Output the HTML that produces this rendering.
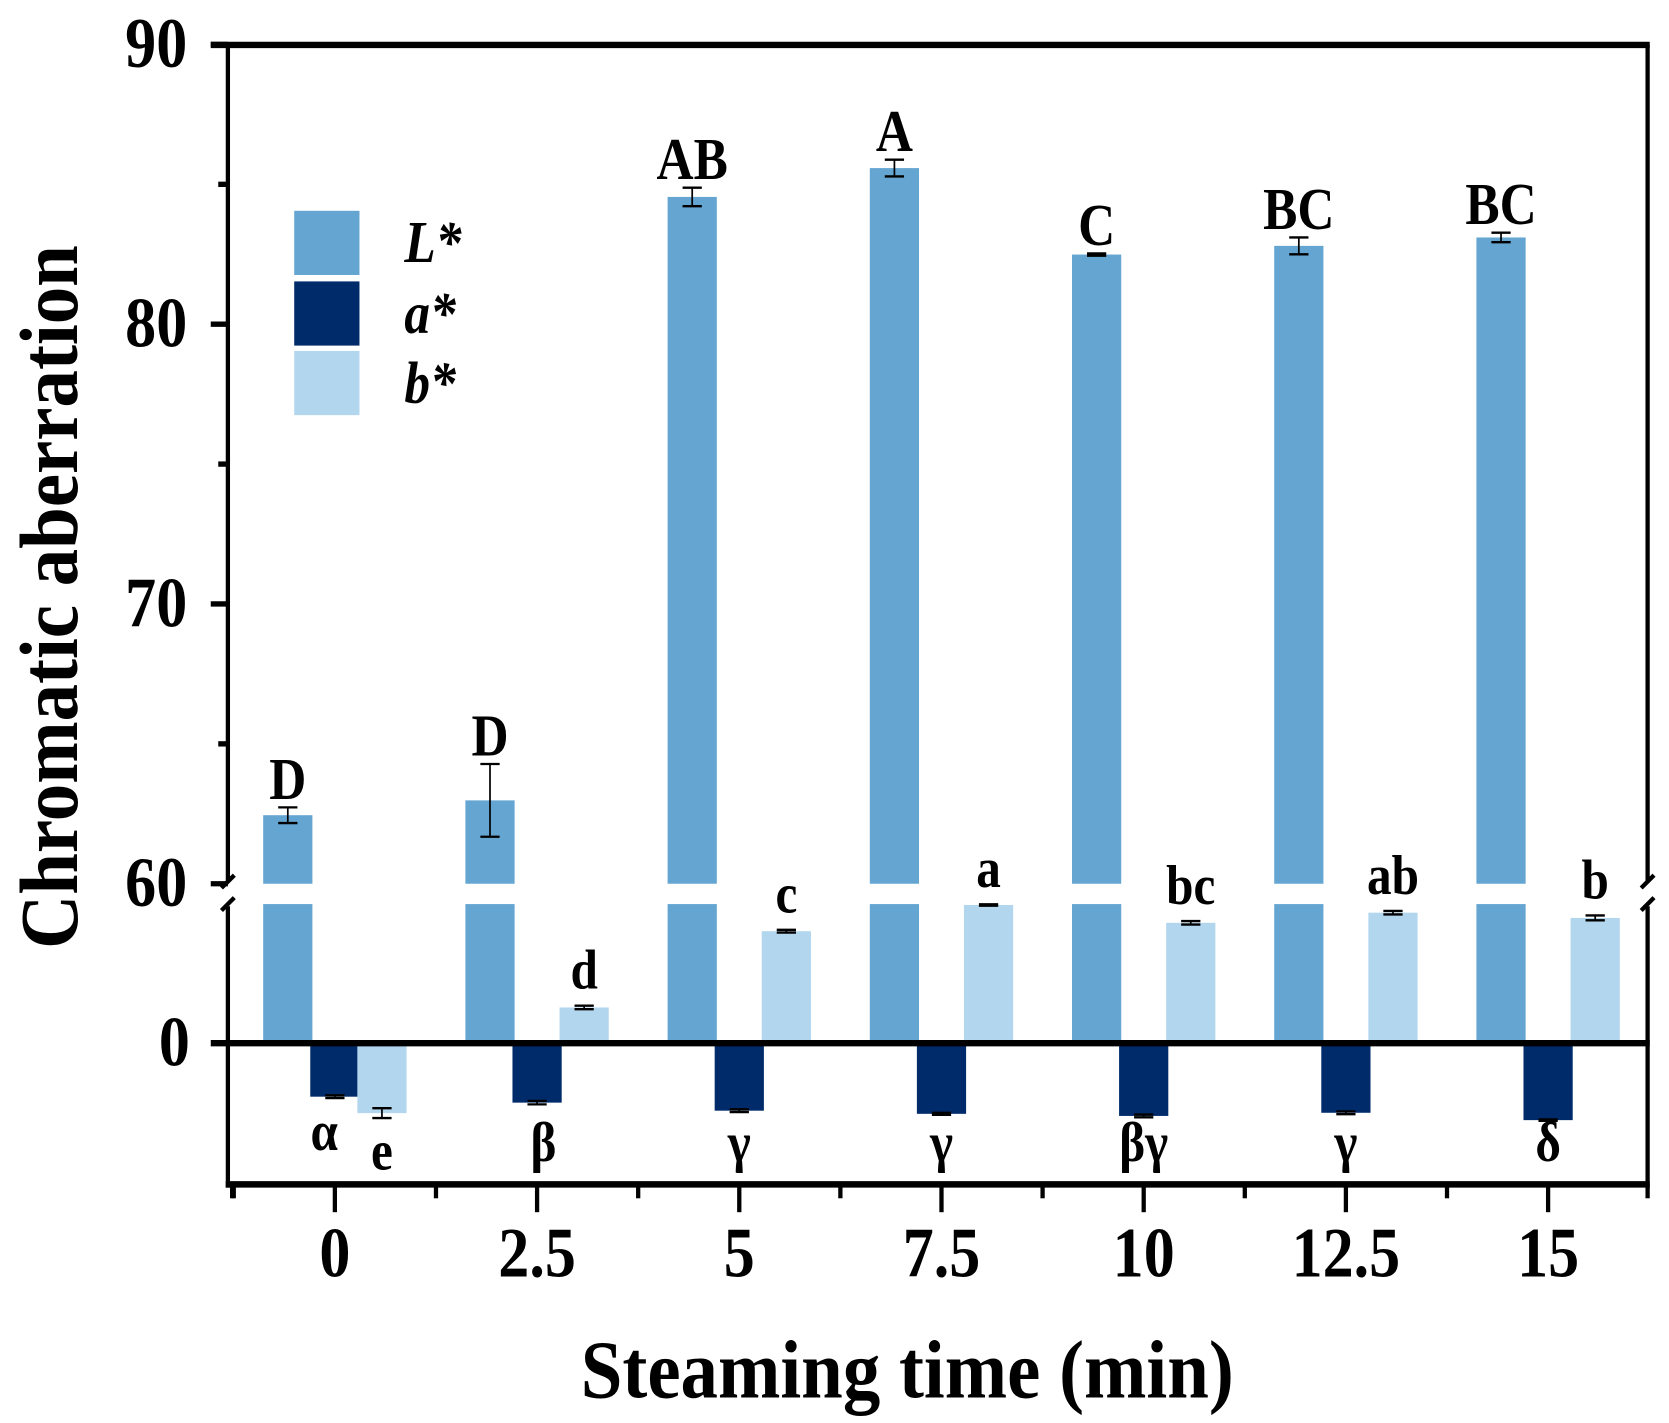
<!DOCTYPE html>
<html><head><meta charset="utf-8"><style>
html,body{margin:0;padding:0;background:#fff;}
svg{display:block;font-family:"Liberation Serif",serif;font-weight:bold;}
</style></head><body>
<svg id="chart" width="1669" height="1423" viewBox="0 0 1560 1330" xmlns="http://www.w3.org/2000/svg">
<g id="marks"></g>
<g id="axes"></g>
</svg>
<script>
const categories = ["0","2.5","5","7.5","10","12.5","15"];
const Lvals = [62.45, 62.98, 84.55, 85.58, 82.49, 82.8, 83.1];
const Lerr = [0.28, 1.3, 0.33, 0.3, 0.04, 0.3, 0.17];
const Lletters = ["D","D","AB","A","C","BC","BC"];
const avals = [-15.3, -17.0, -19.3, -20.2, -20.8, -19.9, -22.0];
const aerr = [0.4, 0.5, 0.4, 0.3, 0.4, 0.4, 0.2];
const aletters = ["α","β","γ","γ","βγ","γ","δ"];
const bvals = [-20.0, 10.2, 32.0, 39.5, 34.4, 37.3, 35.8];
const berr = [1.4, 0.5, 0.4, 0.2, 0.5, 0.5, 0.7];
const bletters = ["e","d","c","a","bc","ab","b"];
const upperTicks = [60, 70, 80, 90];
const lowerTicks = [0];

const NS="http://www.w3.org/2000/svg";
const marks=document.getElementById('marks'), axes=document.getElementById('axes');
function mk(tag, attrs, parent){const e=document.createElementNS(NS,tag);for(const k in attrs)e.setAttribute(k,attrs[k]);parent.appendChild(e);return e;}
const X0=213, X1=1540;
const xCenter = i => 313 + i*189;
const yUp = v => 826 - (v-60)*26.15;
const yLow = v => 975 - v*3.27;
const BREAK_TOP=826, BREAK_BOT=845;
const BW=46, OFF=44;
const cL="#65a5d1", cA="#002b6b", cB="#b3d6ef";

function errBar(x, y1, y2, parent, name){
  const g=mk('g',{},parent);
  
  
  mk('line',{x1:x,x2:x,y1:y1,y2:y2,stroke:'#000','stroke-width':1.6},g);
  mk('line',{x1:x-9,x2:x+9,y1:y1,y2:y1,stroke:'#000','stroke-width':2.2},g);
  mk('line',{x1:x-9,x2:x+9,y1:y2,y2:y2,stroke:'#000','stroke-width':2.2},g);
}
function txt(x,y,s,size,parent,name,sy){
  sy = sy||1.15;
  const t=mk('text',{x:0,y:0,'font-size':size,'text-anchor':'middle',fill:'#000',transform:`translate(${x},${y}) scale(1,${sy})`},parent);
  t.textContent=s;
  
  
  return t;
}

categories.forEach((c,i)=>{
  const xc=xCenter(i);
  const xl=xc-OFF;
  const g=mk('g',{},marks);
  
  
  mk('rect',{x:xl-BW/2,y:yUp(Lvals[i]),width:BW,height:BREAK_TOP-yUp(Lvals[i]),fill:cL},g);
  mk('rect',{x:xl-BW/2,y:BREAK_BOT,width:BW,height:yLow(0)-BREAK_BOT,fill:cL},g);
  errBar(xl, yUp(Lvals[i]+Lerr[i]), yUp(Lvals[i]-Lerr[i]), marks, 'errorbar-L-'+c);
  txt(xl, yUp(Lvals[i]+Lerr[i])-8, Lletters[i], 48, marks, 'letter-L-'+c);
  const ya=yLow(avals[i]);
  const ra=mk('rect',{x:xc-BW/2,y:yLow(0),width:BW,height:ya-yLow(0),fill:cA},marks);
  
  
  errBar(xc, yLow(avals[i]+aerr[i]), yLow(avals[i]-aerr[i]), marks, 'errorbar-a-'+c);
  const xb=xc+OFF, yb=yLow(bvals[i]);
  const rb=mk('rect',{x:xb-BW/2,y:Math.min(yb,yLow(0)),width:BW,height:Math.abs(yb-yLow(0)),fill:cB},marks);
  
  
  errBar(xb, yLow(bvals[i]+berr[i]), yLow(bvals[i]-berr[i]), marks, 'errorbar-b-'+c);
  if(bvals[i]>=0) txt(xb, yLow(bvals[i]+berr[i])-16, bletters[i], 46, marks, 'letter-b-'+c);
  else txt(xb, yLow(bvals[i]-berr[i])+48, bletters[i], 46, marks, 'letter-b-'+c);
});
categories.forEach((c,i)=>{
  const xc=xCenter(i) + (i===0?-10:(i===1?6:0));
  txt(xc, i===0?1075:1085, aletters[i], 46, marks, 'letter-a-'+c);
});

const A=axes;
mk('line',{x1:197,x2:X1+2,y1:42,y2:42,stroke:'#000','stroke-width':6},A);
mk('line',{x1:X1,x2:X1,y1:42,y2:BREAK_TOP-2,stroke:'#000','stroke-width':4},A);
mk('line',{x1:X1,x2:X1,y1:BREAK_BOT+2,y2:1110,stroke:'#000','stroke-width':4},A);
mk('line',{x1:X0,x2:X0,y1:42,y2:BREAK_TOP-2,stroke:'#000','stroke-width':4},A);
mk('line',{x1:X0,x2:X0,y1:BREAK_BOT+2,y2:1110,stroke:'#000','stroke-width':4},A);
mk('line',{x1:197,x2:X1+2,y1:yLow(0),y2:yLow(0),stroke:'#000','stroke-width':6},A);
mk('line',{x1:X0-2,x2:X1+2,y1:1107,y2:1107,stroke:'#000','stroke-width':6},A);
[X0,X1].forEach(x=>{
  mk('path',{d:`M${x-6},${BREAK_TOP+4} L${x+6},${BREAK_TOP-8} M${x-6},${BREAK_BOT+6} L${x+6},${BREAK_BOT-6}`,stroke:'#000','stroke-width':4,fill:'none'},A);
});
for(let v=60; v<=90; v+=5){
  const major=v%10===0;
  mk('line',{x1:major?197:204,x2:X0,y1:yUp(v),y2:yUp(v),stroke:'#000','stroke-width':5},A);
}
upperTicks.forEach(v=>txt(146, yUp(v)+21, String(v), 58, A, 'y-tick-'+v));
lowerTicks.forEach(v=>txt(163, yLow(v)+21, String(v), 58, A, 'y-tick-lower-'+v));
categories.forEach((c,i)=>{
  const x=xCenter(i);
  mk('line',{x1:x,x2:x,y1:1107,y2:1133,stroke:'#000','stroke-width':4},A);
  mk('line',{x1:x-94.5,x2:x-94.5,y1:1107,y2:1120,stroke:'#000','stroke-width':4},A);
  txt(x, 1193, c, 58, A, 'x-tick-'+c);
});
mk('line',{x1:X1,x2:X1,y1:1107,y2:1120,stroke:'#000','stroke-width':4},A);
mk('line',{x1:217,x2:217,y1:1107,y2:1120,stroke:'#000','stroke-width':4},A);
txt(848, 1306, 'Steaming time (min)', 70, A, 'x-axis-title', 1.1);
const yt=mk('text',{x:0,y:0,'font-size':70,'text-anchor':'middle',fill:'#000',transform:'translate(72,558) rotate(-90) scale(1,1.1)'},A);
yt.textContent='Chromatic aberration';


const lg=mk('g',{},A);


[["L*",cL,197],["a*",cA,263],["b*",cB,328]].forEach(([n,col,y])=>{
  const r=mk('rect',{x:275,y:y,width:61,height:60,fill:col},lg);
  
  
  const t=mk('text',{x:0,y:0,'font-size':48,'font-style':'italic',fill:'#000',transform:`translate(378,${y+48}) scale(1,1.15)`},lg);
  t.textContent=n;
  
  
});
</script>
</body></html>
